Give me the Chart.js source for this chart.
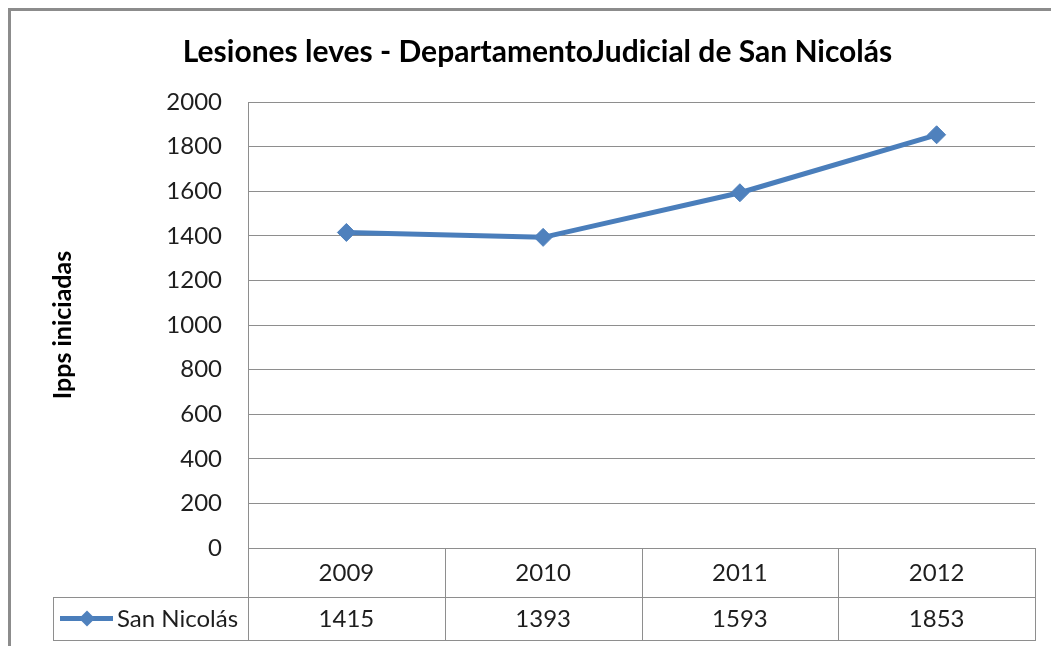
<!DOCTYPE html>
<html>
<head>
  <meta charset="utf-8">
  <title>Lesiones leves - Departamento Judicial de San Nicolás</title>
  <script src="https://cdn.jsdelivr.net/npm/chart.js"></script>
  <style>
    body { margin: 0; background: #fff; }
    .wrap { position: relative; width: 1051px; height: 646px; overflow: hidden; }
    #chart { position: absolute; left: 0; top: 0; }
    /* outer frame of the chart object, runs off the right and bottom edges */
    .frame {
      position: absolute; left: 8px; top: 8px;
      width: 1100px; height: 700px;
      border: 3px solid #8c8c8c;
      pointer-events: none;
    }
  </style>
</head>
<body>
  <div class="wrap">
    <canvas id="chart" width="1051" height="646"></canvas>
    <div class="frame"></div>
  </div>
  <script>
    // --- DATA ---
    const years = ['2009', '2010', '2011', '2012'];
    const seriesName = 'San Nicolás';
    const ippsIniciadas = [1415, 1393, 1593, 1853];

    const titleText = 'Lesiones leves - DepartamentoJudicial de San Nicolás';
    const yTitleText = 'Ipps iniciadas';

    // --- STYLE ---
    const FONT = 'Lato, "Noto Sans", sans-serif';
    const gridColor = '#8e8e8e';
    const lineColor = '#4a7ebb';
    const markerColor = '#4f81bd';
    const textColor = '#1e1e1e';

    // Data table under the plot: year row, value row and the legend key cell
    const dataTable = {
      id: 'dataTable',
      afterDraw(chart) {
        const { ctx, chartArea: a, scales: { x } } = chart;
        const row1 = a.bottom;
        const row2 = a.bottom + 49;
        const row3 = a.bottom + 92;
        const keyLeft = 53;
        const n = years.length;

        // cell boundaries half way between categories
        const edges = [a.left];
        for (let i = 0; i < n - 1; i++) {
          edges.push((x.getPixelForValue(i) + x.getPixelForValue(i + 1)) / 2);
        }
        edges.push(a.right);

        ctx.save();
        ctx.strokeStyle = gridColor;
        ctx.lineWidth = 1;
        ctx.beginPath();
        ctx.moveTo(keyLeft, row2 + 0.5); ctx.lineTo(a.right, row2 + 0.5);
        ctx.moveTo(keyLeft, row3 + 0.5); ctx.lineTo(a.right, row3 + 0.5);
        edges.forEach(e => {
          const xx = Math.round(e) + 0.5;
          ctx.moveTo(xx, row1); ctx.lineTo(xx, row3 + 1);
        });
        ctx.moveTo(keyLeft + 0.5, row2); ctx.lineTo(keyLeft + 0.5, row3 + 1);
        ctx.stroke();

        ctx.font = '24px ' + FONT;
        ctx.fillStyle = textColor;
        ctx.textAlign = 'center';
        ctx.textBaseline = 'middle';
        years.forEach((yr, i) => ctx.fillText(yr, x.getPixelForValue(i), (row1 + row2) / 2 + 1));
        chart.data.datasets[0].data.forEach((v, i) =>
          ctx.fillText(String(v), x.getPixelForValue(i), (row2 + row3) / 2 + 1));

        // legend key: line with diamond marker, then series name
        const ky = (row2 + row3) / 2;
        ctx.strokeStyle = lineColor;
        ctx.lineWidth = 5;
        ctx.beginPath();
        ctx.moveTo(60, ky); ctx.lineTo(113, ky);
        ctx.stroke();
        ctx.fillStyle = markerColor;
        ctx.beginPath();
        ctx.moveTo(87, ky - 8); ctx.lineTo(95, ky); ctx.lineTo(87, ky + 8); ctx.lineTo(79, ky);
        ctx.closePath();
        ctx.fill();
        ctx.fillStyle = textColor;
        ctx.textAlign = 'left';
        ctx.fillText(chart.data.datasets[0].label, 117, ky + 1);
        ctx.restore();
      }
    };

    new Chart(document.getElementById('chart').getContext('2d'), {
      type: 'line',
      data: {
        labels: years,
        datasets: [{
          label: seriesName,
          data: ippsIniciadas,
          borderColor: lineColor,
          borderWidth: 5,
          backgroundColor: markerColor,
          pointStyle: 'rectRot',
          pointRadius: 9,
          pointBackgroundColor: markerColor,
          pointBorderColor: markerColor,
          pointBorderWidth: 1,
          tension: 0
        }]
      },
      options: {
        responsive: false,
        animation: false,
        events: [],
        layout: { padding: { left: 40, right: 16, top: 0, bottom: 0 } },
        plugins: {
          legend: { display: false },
          tooltip: { enabled: false },
          title: {
            display: true,
            text: titleText,
            color: '#000',
            font: { family: FONT, size: 30, weight: 'bold' },
            padding: { top: 34, bottom: 32 }
          }
        },
        scales: {
          x: {
            offset: true,
            ticks: { display: false },
            grid: { display: false },
            border: { display: true, color: gridColor, width: 1 },
            afterFit(scale) { scale.height = 98; }
          },
          y: {
            min: 0,
            max: 2000,
            ticks: {
              stepSize: 200,
              padding: 26,
              color: textColor,
              font: { family: FONT, size: 24 },
              callback: v => String(v)
            },
            grid: { color: gridColor, lineWidth: 1, drawTicks: false },
            border: { display: true, color: gridColor, width: 1 },
            title: {
              display: true,
              text: yTitleText,
              color: '#000',
              font: { family: FONT, size: 25, weight: 'bold' },
              padding: { top: 8, bottom: 0 }
            },
            afterFit(scale) { scale.width = 208; }
          }
        }
      },
      plugins: [dataTable]
    });
  </script>
</body>
</html>
